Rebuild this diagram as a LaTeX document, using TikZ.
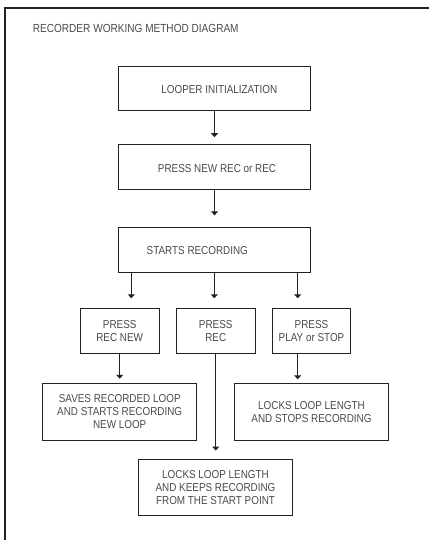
\documentclass[tikz,border=0pt]{standalone}
\usepackage{fontspec}
\setmainfont[FakeStretch=0.86]{Liberation Sans}
\usetikzlibrary{arrows.meta}
\definecolor{txtgray}{HTML}{4A4A4A}
\definecolor{linegray}{HTML}{222222}
\begin{document}
\begin{tikzpicture}[x=1pt,y=-1pt,
  box/.style={draw=linegray,line width=0.9pt,minimum width=#1,inner sep=0pt},
  lbl/.style={text=txtgray,font=\fontsize{11.5}{13}\selectfont,align=center,inner sep=0pt},
  arr/.style={draw=linegray,line width=0.9pt,-{Triangle[length=4pt,width=7pt]}},
  frame/.style={draw=linegray,line width=2pt}]
\useasboundingbox (0,0) rectangle (428,540);
\draw[frame] (4.5,548) -- (4.5,8.5) -- (436,8.5);
\node[lbl,font=\fontsize{11.7}{13}\selectfont,anchor=base west] (title) at (32.7,33) {RECORDER WORKING METHOD DIAGRAM};
% main column
\node[box=192.4pt,minimum height=44.3pt] (b1) at (214.5,88.2) {};
\node[lbl] (t1) at (219.3,89.3) {LOOPER INITIALIZATION};
\node[box=192.4pt,minimum height=45pt] (b2) at (214.5,167.2) {};
\node[lbl] (t2) at (217,168.7) {PRESS NEW REC or REC};
\node[box=192.4pt,minimum height=44.7pt] (b3) at (214.5,249.7) {};
\node[lbl] (t3) at (197.3,250.7) {STARTS RECORDING};
% row of presses
\node[box=78.7pt,minimum height=45pt,lbl] (r1) at (119.7,331.2) {PRESS\\REC NEW};
\node[box=78.7pt,minimum height=45pt,lbl] (r2) at (215.7,331.2) {PRESS\\REC};
\node[box=78.4pt,minimum height=45pt,lbl] (r3) at (311.5,331.2) {PRESS\\PLAY or STOP};
% results
\node[box=154pt,minimum height=56.6pt,lbl] (s1) at (119.7,412) {SAVES RECORDED LOOP\\AND STARTS RECORDING\\NEW LOOP};
\node[box=154.4pt,minimum height=56.6pt,lbl] (s3) at (311.5,412) {LOCKS LOOP LENGTH\\AND STOPS RECORDING};
\node[box=154.4pt,minimum height=56.4pt,lbl] (s2) at (215.5,487.5) {LOCKS LOOP LENGTH\\AND KEEPS RECORDING\\FROM THE START POINT};
% connectors
\draw[arr,shorten >=7pt] (b1.south) -- (b2.north);
\draw[arr,shorten >=11.5pt] (b2.south) -- (b3.north);
\coordinate (k1) at (131.3,298.3);
\coordinate (k2) at (214.3,298.3);
\coordinate (k3) at (297.7,298.3);
\draw[arr] (b3.south -| k1) -- (k1);
\draw[arr] (b3.south -| k2) -- (k2);
\draw[arr] (b3.south -| k3) -- (k3);
\draw[arr,shorten >=4.5pt] (r1.south) -- (s1.north);
\coordinate (k4) at (297.7,379.3);
\draw[arr] (r3.south -| k4) -- (k4);
\draw[arr,shorten >=8.3pt] (r2.south) -- (r2.south |- s2.north);
\end{tikzpicture}
\end{document}
